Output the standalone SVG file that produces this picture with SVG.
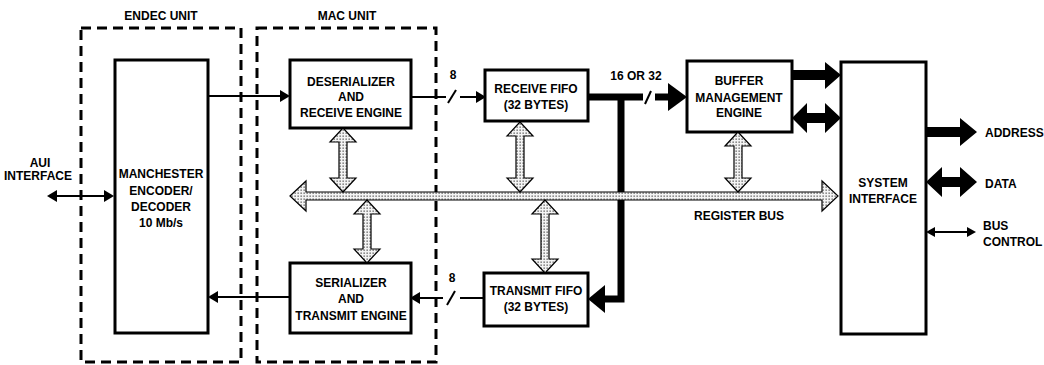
<svg xmlns="http://www.w3.org/2000/svg" width="1044" height="365" viewBox="0 0 1044 365">
<defs>
<pattern id="dots" width="3" height="3" patternUnits="userSpaceOnUse">
<rect width="3" height="3" fill="#f4f4f4"/>
<rect x="0.5" y="0.5" width="1.3" height="1.3" fill="#555"/>
</pattern>
<style>
text{font-family:"Liberation Sans",Arial,sans-serif;font-weight:bold;font-size:12px;fill:#000;text-anchor:middle}
.box{fill:#fff;stroke:#000;stroke-width:3}
.unit{fill:none;stroke:#000;stroke-width:3;stroke-dasharray:10 6}
.dot{fill:url(#dots);stroke:#000;stroke-width:1.2}
.thin{stroke:#000;stroke-width:2;fill:none}
.thick{stroke:#000;stroke-width:7;fill:none}
.blk{fill:#000;stroke:none}
.l{text-anchor:start}
</style>
</defs>

<g id="endec-unit">
<rect class="unit" x="81" y="28" width="160" height="334"/>
<text x="161" y="20">ENDEC UNIT</text>
</g>
<g id="mac-unit">
<rect class="unit" x="257" y="28" width="179" height="334"/>
<text x="347" y="20">MAC UNIT</text>
</g>

<g id="manchester">
<rect class="box" x="115" y="60" width="93" height="273"/>
<text x="161" y="178">MANCHESTER</text>
<text x="161" y="195">ENCODER/</text>
<text x="161" y="211">DECODER</text>
<text x="161" y="227">10 Mb/s</text>
</g>

<g id="aui">
<text x="40" y="167">AUI</text>
<text x="38" y="180">INTERFACE</text>
</g>

<g id="deserializer">
<rect class="box" x="290" y="60" width="121" height="68"/>
<text x="351" y="86">DESERIALIZER</text>
<text x="351" y="101">AND</text>
<text x="351" y="117">RECEIVE ENGINE</text>
</g>

<g id="serializer">
<rect class="box" x="290" y="263" width="121" height="70"/>
<text x="351" y="287">SERIALIZER</text>
<text x="351" y="303">AND</text>
<text x="351" y="320">TRANSMIT ENGINE</text>
</g>

<g id="receive-fifo">
<rect class="box" x="485" y="70" width="103" height="51"/>
<text x="536" y="93">RECEIVE FIFO</text>
<text x="536" y="109">(32 BYTES)</text>
</g>

<g id="transmit-fifo">
<rect class="box" x="484" y="273" width="104" height="53"/>
<text x="536" y="295">TRANSMIT FIFO</text>
<text x="536" y="311">(32 BYTES)</text>
</g>

<g id="buffer-management">
<rect class="box" x="687" y="61" width="105" height="71"/>
<text x="739" y="85">BUFFER</text>
<text x="739" y="102">MANAGEMENT</text>
<text x="739" y="117">ENGINE</text>
</g>

<g id="system-interface">
<rect class="box" x="841" y="62" width="85" height="272"/>
<text x="883" y="187">SYSTEM</text>
<text x="883" y="203">INTERFACE</text>
</g>

<g id="connectors">
<!-- AUI -->
<line class="thin" x1="55" y1="196" x2="105" y2="196"/>
<polygon class="blk" points="47,196 57,190 57,202"/>
<polygon class="blk" points="114,196 104,190 104,202"/>
<!-- Manchester to deserializer -->
<line class="thin" x1="208" y1="96" x2="282" y2="96"/>
<polygon class="blk" points="290,96 280,90 280,102"/>
<!-- serializer to Manchester -->
<line class="thin" x1="290" y1="297" x2="216" y2="297"/>
<polygon class="blk" points="208,297 218,291 218,303"/>
<!-- 8 bit receive -->
<line class="thin" x1="411" y1="97" x2="446" y2="97"/>
<line class="thin" x1="448" y1="103" x2="456" y2="90"/>
<line class="thin" x1="460" y1="97" x2="478" y2="97"/>
<polygon class="blk" points="486,97 476,91 476,103"/>
<text x="453" y="79">8</text>
<!-- 8 bit transmit -->
<line class="thin" x1="484" y1="298" x2="460" y2="298"/>
<line class="thin" x1="447" y1="305" x2="455" y2="291"/>
<line class="thin" x1="443" y1="298" x2="418" y2="298"/>
<polygon class="blk" points="410,298 420,292 420,304"/>
<text x="452" y="282">8</text>
<!-- 16 or 32 bus -->
<line class="thick" x1="588" y1="97" x2="643" y2="97"/>
<line class="thin" x1="645" y1="104" x2="651" y2="91"/>
<line class="thick" x1="655" y1="97" x2="670" y2="97"/>
<polygon class="blk" points="687,97 668,83 668,111"/>
<polyline class="thick" points="621,97 621,299 602,299"/>
<polygon class="blk" points="588,299 605,285 605,313"/>
<text x="636" y="80">16 OR 32</text>
<!-- BME to SI -->
<polygon class="blk" points="792,70 825,70 825,62 841,75 825,89 825,80 792,80"/>
<polygon class="blk" points="792,118 807,103 807,113 825,113 825,103 841,118 825,133 825,123 807,123 807,133"/>
<!-- SI outputs -->
<polygon class="blk" points="926,127 960,127 960,118 977,132 960,146 960,137 926,137"/>
<text class="l" x="985" y="137">ADDRESS</text>
<polygon class="blk" points="926,182 942,167 942,177 960,177 960,167 977,182 960,197 960,187 942,187 942,197"/>
<text class="l" x="985" y="188">DATA</text>
<line class="thin" x1="932" y1="232" x2="969" y2="232"/>
<polygon class="blk" points="926,232 935,227 935,237"/>
<polygon class="blk" points="976,232 967,227 967,237"/>
<text class="l" x="983" y="230">BUS</text>
<text class="l" x="983" y="246">CONTROL</text>
<!-- register bus -->
<polygon class="dot" points="290,196 306,181 306,192 822,192 822,181 838,196 822,211 822,200 306,200 306,211"/>
<text x="739" y="220">REGISTER BUS</text>
<polygon class="dot" points="343,128 356,142 347,142 347,178 356,178 343,192 330,178 339,178 339,142 330,142"/>
<polygon class="dot" points="367,200 380,214 371,214 371,249 380,249 367,263 354,249 363,249 363,214 354,214"/>
<polygon class="dot" points="520,122 533,136 524,136 524,178 533,178 520,192 507,178 516,178 516,136 507,136"/>
<polygon class="dot" points="545,200 558,214 549,214 549,259 558,259 545,273 532,259 541,259 541,214 532,214"/>
<polygon class="dot" points="738,132 751,146 742,146 742,178 751,178 738,192 725,178 734,178 734,146 725,146"/>
</g>
</svg>
